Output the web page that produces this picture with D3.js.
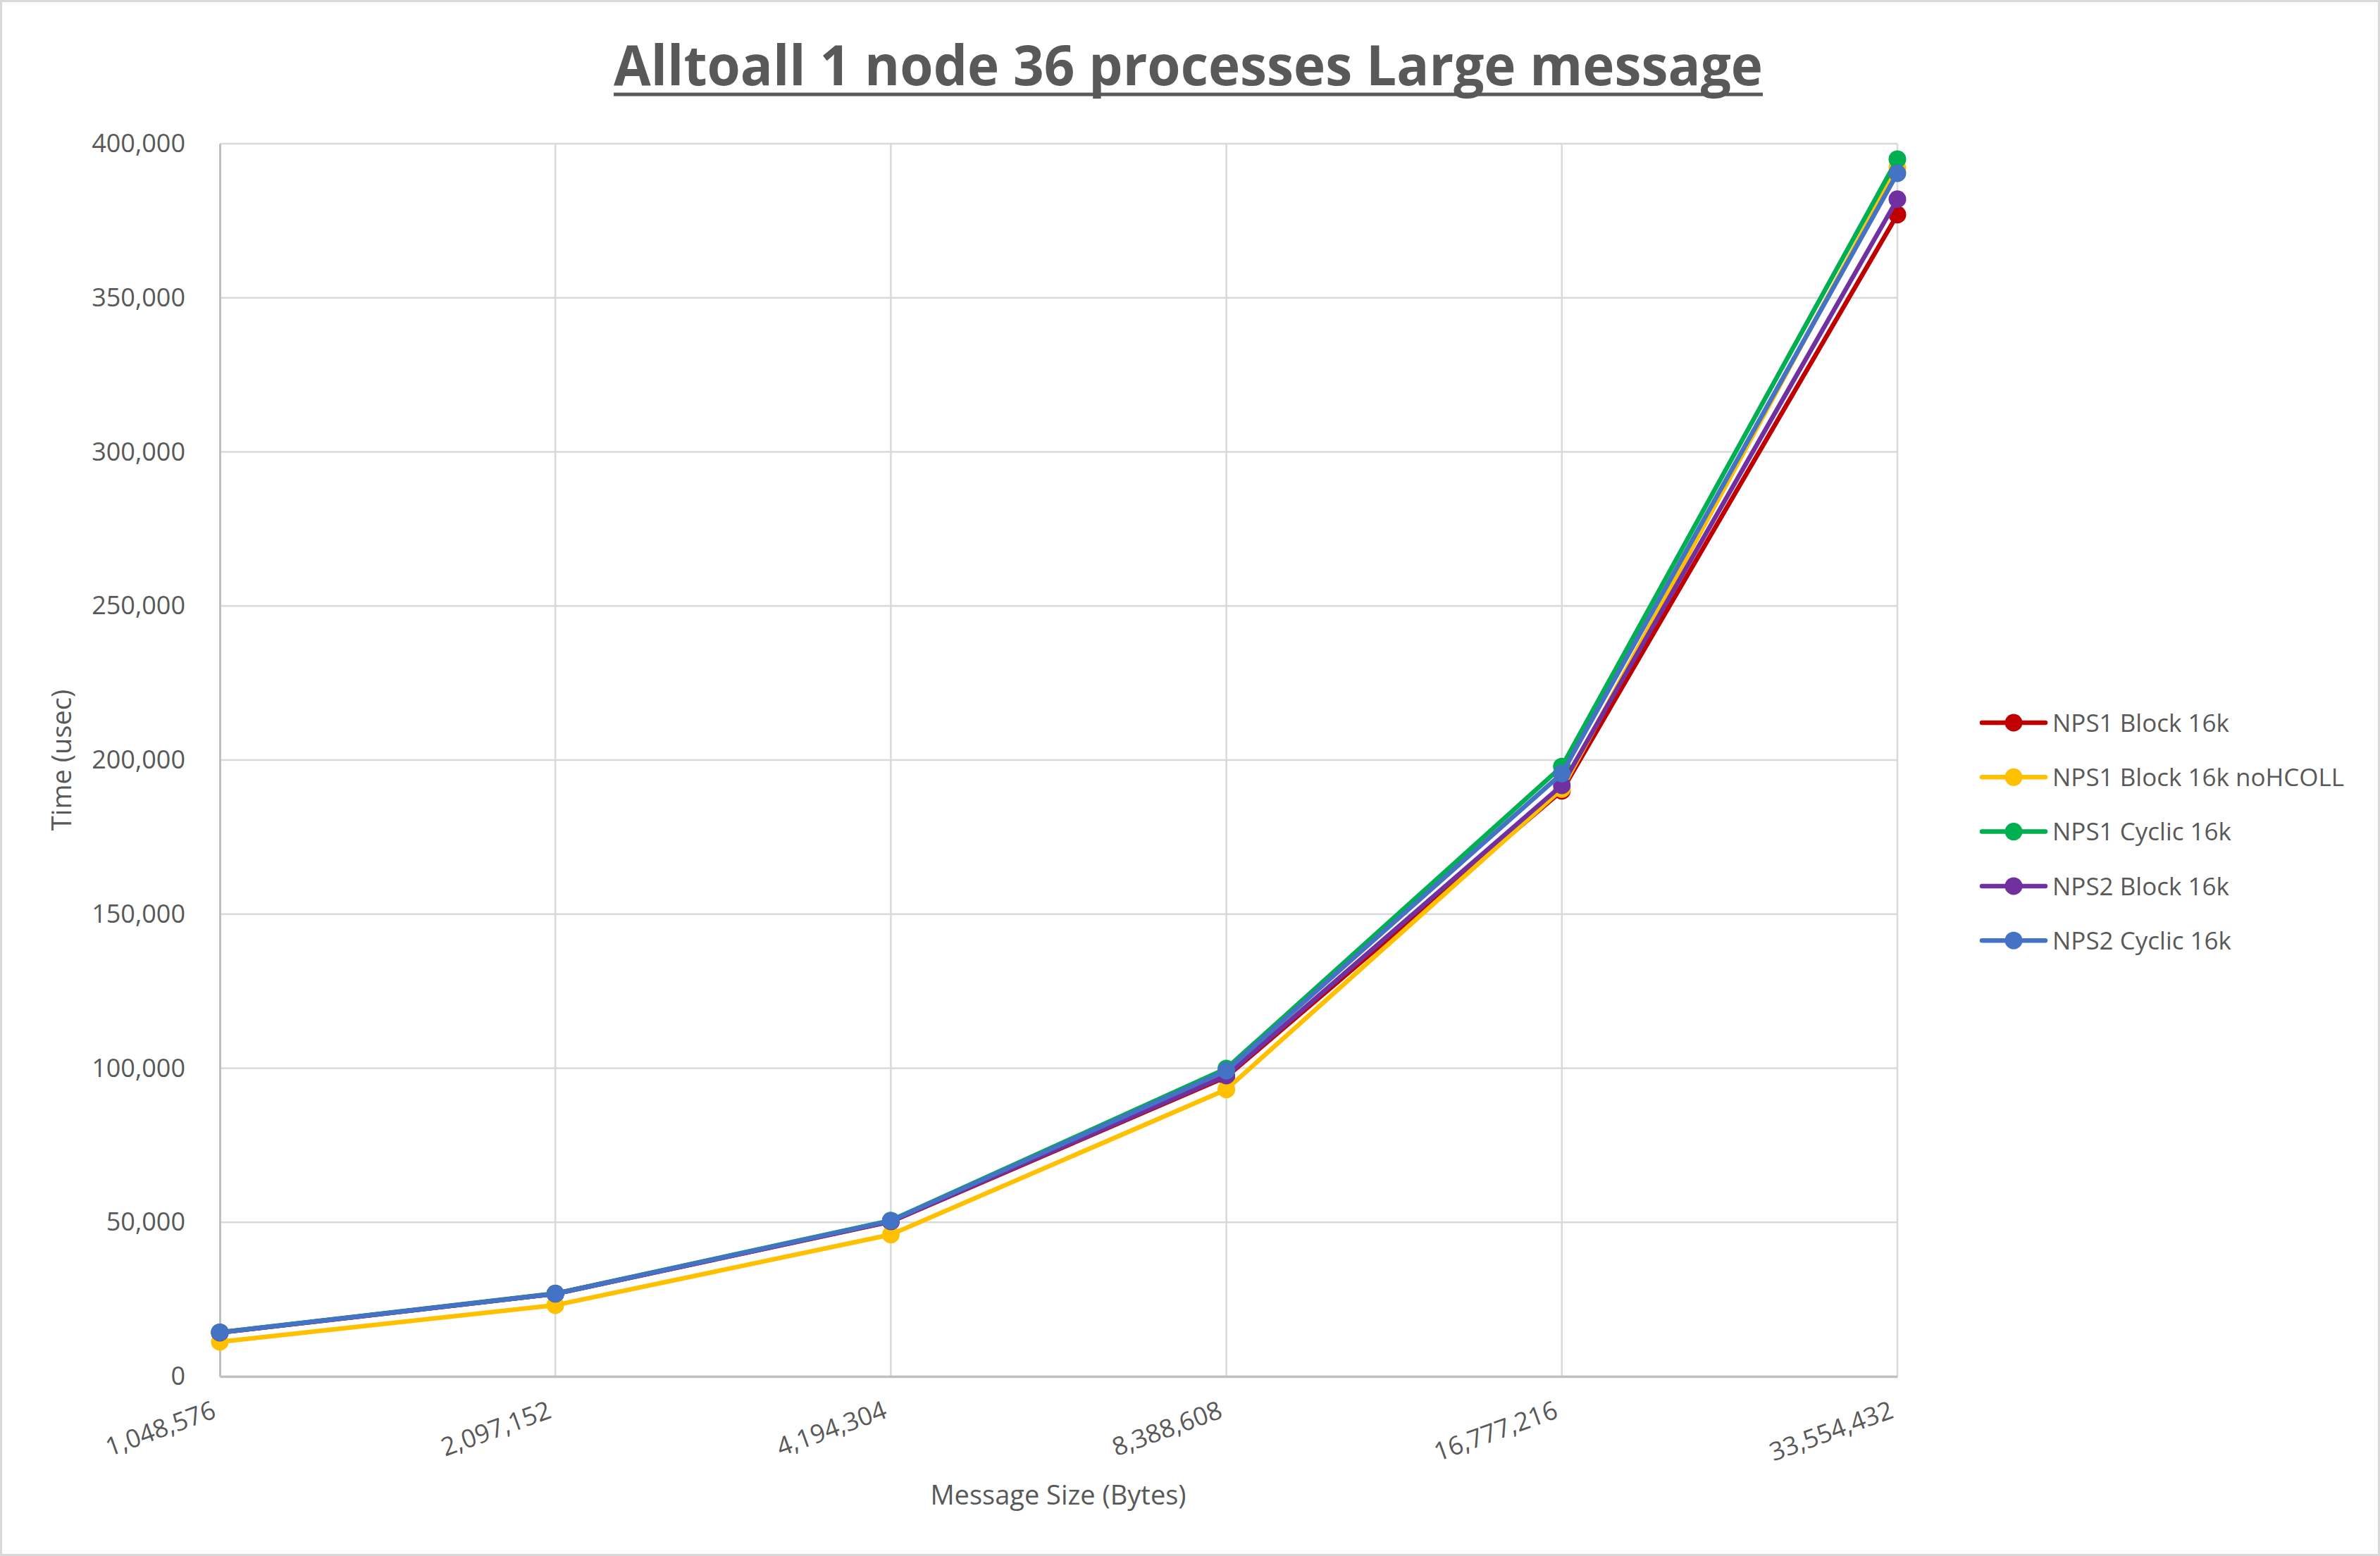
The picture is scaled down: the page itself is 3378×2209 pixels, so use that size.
<!DOCTYPE html>
<html><head><meta charset="utf-8">
<script src="https://cdn.jsdelivr.net/npm/d3@7"></script>
<style>html,body{margin:0;padding:0;background:#fff;} svg{display:block;}</style>
</head><body>
<script>
const categories = ["1,048,576","2,097,152","4,194,304","8,388,608","16,777,216","33,554,432"];
const seriesNames = ["NPS1 Block 16k","NPS1 Block 16k noHCOLL","NPS1 Cyclic 16k","NPS2 Block 16k","NPS2 Cyclic 16k"];
const seriesColors = ["#C00000","#FFC000","#00B050","#7030A0","#4472C4"];
const nps1Block = [14200, 26800, 50200, 97200, 190000, 377000];
const nps1BlockNoHcoll = [11200, 23100, 46000, 93100, 190600, 392200];
const nps1Cyclic = [14300, 26900, 50600, 99900, 197900, 395000];
const nps2Block = [14200, 26800, 50300, 97600, 191800, 382000];
const nps2Cyclic = [14300, 26800, 50500, 99200, 195600, 390400];
const yTicks = [0,50000,100000,150000,200000,250000,300000,350000,400000];
const titleText = "Alltoall 1 node 36 processes Large message";
const xTitle = "Message Size (Bytes)";
const yTitle = "Time (usec)";

const seriesValues = [nps1Block, nps1BlockNoHcoll, nps1Cyclic, nps2Block, nps2Cyclic];
const W = 3378, H = 2209;
const mLeft = 312, mRight = 2693, mTop = 204, mBottom = 1954;
const textColor = "#595959";
const font = "'Open Sans', 'Liberation Sans', sans-serif";

const svg = d3.select("body").append("svg").attr("width", W).attr("height", H);
svg.append("rect").attr("x",1.5).attr("y",1.5).attr("width",W-3).attr("height",H-3)
  .attr("fill","#fff").attr("stroke","#d9d9d9").attr("stroke-width",3);

const x = d3.scalePoint().domain(categories).range([mLeft, mRight]);
const y = d3.scaleLinear().domain([0, 400000]).range([mBottom, mTop]);

// gridlines
svg.append("g").selectAll("line").data(yTicks.filter(d => d > 0)).join("line")
  .attr("x1", mLeft).attr("x2", mRight).attr("y1", d => y(d)).attr("y2", d => y(d))
  .attr("stroke", "#d9d9d9").attr("stroke-width", 2.5);
svg.append("g").selectAll("line").data(categories.slice(1)).join("line")
  .attr("x1", d => x(d)).attr("x2", d => x(d)).attr("y1", mTop).attr("y2", mBottom)
  .attr("stroke", "#d9d9d9").attr("stroke-width", 2.5);

// y axis
const yAxis = d3.axisLeft(y).tickValues(yTicks).tickSize(0).tickPadding(49)
  .tickFormat(d3.format(","));
const gy = svg.append("g").attr("transform", `translate(${mLeft},0)`).call(yAxis);
gy.select(".domain").attr("stroke", "#bfbfbf").attr("stroke-width", 3);
gy.selectAll("text").attr("fill", textColor).style("font-family", font).style("font-size", "36px");

// x axis
const xAxis = d3.axisBottom(x).tickSize(0).tickPadding(0);
const gx = svg.append("g").attr("transform", `translate(0,${mBottom})`).call(xAxis);
gx.select(".domain").attr("stroke", "#bfbfbf").attr("stroke-width", 3.5);
gx.selectAll("text").attr("fill", textColor).style("font-family", font).style("font-size", "36px")
  .attr("text-anchor", "end").attr("dy", null).attr("y", 0)
  .attr("transform", "translate(-4,58) rotate(-20)");

// lines
const line = d3.line().x((d, i) => x(categories[i])).y(d => y(d));
seriesValues.forEach((vals, si) => {
  const g = svg.append("g");
  g.append("path").datum(vals).attr("d", line).attr("fill", "none")
    .attr("stroke", seriesColors[si]).attr("stroke-width", 6.5).attr("stroke-linejoin", "round").attr("stroke-linecap","round");
  g.selectAll("circle").data(vals).join("circle")
    .attr("cx", (d, i) => x(categories[i])).attr("cy", d => y(d)).attr("r", 12.5)
    .attr("fill", seriesColors[si]);
});

// title
svg.append("text").attr("x", (871 + 2502) / 2).attr("y", 121).attr("text-anchor", "middle")
  .attr("fill", textColor).style("font-family", font).style("font-weight", "bold").style("font-size", "78px")
  .attr("textLength", 1631).attr("lengthAdjust", "spacingAndGlyphs").text(titleText);
svg.append("line").attr("x1", 871).attr("x2", 2502).attr("y1", 134).attr("y2", 134)
  .attr("stroke", textColor).attr("stroke-width", 5);

// axis titles
svg.append("text").attr("x", 1502).attr("y", 2136).attr("text-anchor", "middle")
  .attr("fill", textColor).style("font-family", font).style("font-size", "38px").text(xTitle);
svg.append("text").attr("transform", `translate(101,${(mTop + mBottom) / 2}) rotate(-90)`).attr("text-anchor", "middle")
  .attr("fill", textColor).style("font-family", font).style("font-size", "38px").text(yTitle);

// legend
const leg = svg.append("g");
const legY0 = 1026, legStep = 77.3;
seriesNames.forEach((name, i) => {
  const yy = legY0 + i * legStep;
  leg.append("line").attr("x1", 2813).attr("x2", 2903).attr("y1", yy).attr("y2", yy)
    .attr("stroke", seriesColors[i]).attr("stroke-width", 6.5).attr("stroke-linecap", "round");
  leg.append("circle").attr("cx", 2858).attr("cy", yy).attr("r", 12.5).attr("fill", seriesColors[i]);
  leg.append("text").attr("x", 2913).attr("y", yy).attr("dy", "0.36em").attr("fill", textColor)
    .style("font-family", font).style("font-size", "35px").text(name);
});
</script>
</body></html>
